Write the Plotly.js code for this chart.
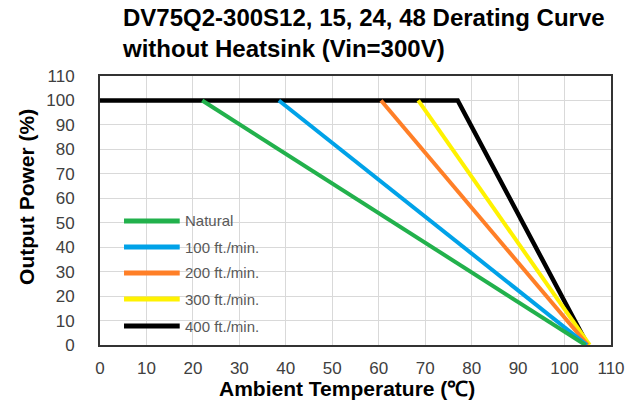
<!DOCTYPE html>
<html>
<head>
<meta charset="utf-8">
<script src="https://cdn.plot.ly/plotly-3.0.1.min.js"></script>
<style>html,body{margin:0;padding:0;background:#fff;}#chart{width:640px;height:405px;}</style>
</head>
<body>
<div id="chart"></div>
<script>
// Series data
var seriesNames = ["Natural", "100 ft./min.", "200 ft./min.", "300 ft./min.", "400 ft./min."];
var seriesColors = ["#22b14c", "#00a2e8", "#ff7f27", "#fff200", "#000000"];
var naturalTemp = [22, 104.5];
var naturalPower = [100, 0];
var lfm100Temp = [38.5, 104.8];
var lfm100Power = [100, 0];
var lfm200Temp = [60.5, 105];
var lfm200Power = [100, 0];
var lfm300Temp = [68.5, 105.4];
var lfm300Power = [100, 0];
var lfm400Temp = [0, 77, 105];
var lfm400Power = [100, 100, 0];
var xTicks = [0, 10, 20, 30, 40, 50, 60, 70, 80, 90, 100, 110];
var yTicks = [0, 10, 20, 30, 40, 50, 60, 70, 80, 90, 100, 110];

var xs = [naturalTemp, lfm100Temp, lfm200Temp, lfm300Temp, lfm400Temp];
var ys = [naturalPower, lfm100Power, lfm200Power, lfm300Power, lfm400Power];

var traces = [];
// draw black first, green last (green on top)
for (var i = seriesNames.length - 1; i >= 0; i--) {
  traces.push({
    x: xs[i], y: ys[i], name: seriesNames[i], type: 'scatter', mode: 'lines',
    line: {color: seriesColors[i], width: i === 4 ? 4.5 : 4},
    showlegend: false, hoverinfo: 'skip'
  });
}

var fontFam = 'Liberation Sans, Arial, sans-serif';
var shapes = [];
var annotations = [];
var legY = [0.461, 0.364, 0.268, 0.171, 0.0706];
for (var j = 0; j < seriesNames.length; j++) {
  shapes.push({type: 'line', xref: 'paper', yref: 'paper', x0: 0.047, x1: 0.156, y0: legY[j], y1: legY[j],
    line: {color: seriesColors[j], width: 5}});
  annotations.push({xref: 'paper', yref: 'paper', x: 0.163, y: legY[j], xanchor: 'left', yanchor: 'middle',
    text: seriesNames[j], showarrow: false, font: {family: fontFam, size: 15, color: '#595959'}});
}
annotations.push({xref: 'paper', yref: 'paper', x: 0.484, y: -0.113, xanchor: 'center', yanchor: 'top',
  text: 'Ambient Temperature (℃)', showarrow: false, font: {family: fontFam, size: 21, color: '#000', weight: 'bold'}});
annotations.push({xref: 'paper', yref: 'paper', x: -0.145, y: 0.55, xanchor: 'center', yanchor: 'middle', textangle: -90,
  text: 'Output Power (%)', showarrow: false, font: {family: fontFam, size: 21, color: '#000', weight: 'bold'}});

var layout = {
  width: 640, height: 405,
  margin: {l: 100, r: 29, t: 76, b: 60},
  paper_bgcolor: '#fff', plot_bgcolor: '#fff',
  title: {
    text: 'DV75Q2-300S12, 15, 24, 48 Derating Curve<br>without Heatsink (Vin=300V)',
    x: 123/640, xref: 'container', xanchor: 'left',
    y: 1 - 26/405, yref: 'container', yanchor: 'top',
    font: {family: fontFam, size: 24, color: '#000', weight: 'bold'}
  },
  xaxis: {
    range: [0, 110], tickmode: 'array', tickvals: xTicks, ticktext: xTicks.map(String),
    showgrid: true, gridcolor: '#d9d9d9', gridwidth: 1,
    showline: true, linecolor: '#333', linewidth: 2, mirror: true,
    zeroline: false, ticks: '', ticklabelstandoff: 7,
    tickfont: {family: fontFam, size: 17, color: '#404040'}
  },
  yaxis: {
    range: [0, 110], tickmode: 'array', tickvals: yTicks, ticktext: yTicks.map(String),
    showgrid: true, gridcolor: '#d9d9d9', gridwidth: 1,
    showline: true, linecolor: '#333', linewidth: 2, mirror: true,
    zeroline: false, ticks: '', ticklabelstandoff: 20,
    tickfont: {family: fontFam, size: 17, color: '#404040'}
  },
  shapes: shapes,
  annotations: annotations,
  showlegend: false
};

Plotly.newPlot('chart', traces, layout, {displayModeBar: false, staticPlot: true});
</script>
</body>
</html>
